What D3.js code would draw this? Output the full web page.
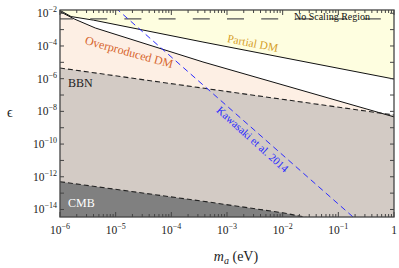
<!DOCTYPE html>
<meta charset="utf-8">
<style>
  body { margin: 0; background: #fff; }
  text { font-family: "Liberation Serif", "DejaVu Serif", serif; }
</style>
<div id="chart"></div>
<script src="https://d3js.org/d3.v7.min.js"></script>
<script>

// x ticks (eV) and y ticks (epsilon)
var massTicks = [1e-6, 1e-5, 1e-4, 1e-3, 1e-2, 1e-1, 1];
var massLabels = ["-6", "-5", "-4", "-3", "-2", "-1", ""];
var epsTicks = [1e-2, 1e-4, 1e-6, 1e-8, 1e-10, 1e-12, 1e-14];
var epsLabels = ["-2", "-4", "-6", "-8", "-10", "-12", "-14"];

// partial DM boundary (upper solid line)
var partialMass = [1e-6, 1.58e-6, 4.0e-6, 3.7e-4, 1];
var partialEps  = [1.5e-2, 6.3e-3, 3.8e-3, 1.74e-4, 9.5e-7];

// overproduced DM boundary (lower solid line)
var overMass = [1e-6, 1.8e-6, 4.3e-6, 3.7e-4, 1];
var overEps  = [1.26e-2, 4.5e-3, 1.26e-3, 1.05e-5, 4.6e-9];

// BBN bound (dashed)
var bbnMass = [1e-6, 1];
var bbnEps  = [4.5e-6, 6.0e-9];

// CMB bound (dashed)
var cmbMass = [1e-6, 3.7e-4, 1e-2, 4e-2];
var cmbEps  = [5e-13, 3.2e-14, 6.3e-15, 2.5e-15];

// Kawasaki et al. 2014
var kawaMass = [1e-5, 0.3];
var kawaEps  = [2.1e-2, 8e-16];

// no scaling region
var noScaleEps = 4.5e-3;

var margin = {top: 10, right: 5, bottom: 51, left: 60},
    width = 399 - margin.left - margin.right,
    height = 268 - margin.top - margin.bottom;

var svg = d3.select("#chart")
  .append("svg")
    .attr("width", 399)
    .attr("height", 268)
  .append("g")
    .attr("transform", "translate(" + margin.left + "," + margin.top + ")");

var x = d3.scaleLog().domain([1e-6, 1]).range([0, width]);
var y = d3.scaleLog().domain([Math.pow(10, -14.46), Math.pow(10, -1.8)]).range([height, 0]);

svg.append("clipPath").attr("id", "clip")
  .append("rect").attr("width", width).attr("height", height);

var plot = svg.append("g").attr("clip-path", "url(#clip)");

function pts(ms, es) { return ms.map(function(m, i) { return [m, es[i]]; }); }

var areaDown = d3.area()
  .x(function(d) { return x(d[0]); })
  .y0(height + 5)
  .y1(function(d) { return y(d[1]); });

var areaUp = d3.area()
  .x(function(d) { return x(d[0]); })
  .y0(-5)
  .y1(function(d) { return y(d[1]); });

var line = d3.line()
  .x(function(d) { return x(d[0]); })
  .y(function(d) { return y(d[1]); });

// regions
plot.append("path").datum(pts(partialMass, partialEps))
  .attr("d", areaUp).attr("fill", "#fefee0");
plot.append("path").datum(pts(overMass, overEps))
  .attr("d", areaDown).attr("fill", "#fdefe4");
plot.append("path").datum(pts(bbnMass, bbnEps))
  .attr("d", areaDown).attr("fill", "#d3cbc5");
plot.append("path").datum(pts(cmbMass, cmbEps))
  .attr("d", areaDown).attr("fill", "#808080");

// boundaries
plot.append("path").datum(pts(partialMass, partialEps))
  .attr("d", line).attr("fill", "none").attr("stroke", "#111").attr("stroke-width", 1);
plot.append("path").datum(pts(overMass, overEps))
  .attr("d", line).attr("fill", "none").attr("stroke", "#111").attr("stroke-width", 1);
plot.append("path").datum(pts(bbnMass, bbnEps))
  .attr("d", line).attr("fill", "none").attr("stroke", "#222")
  .attr("stroke-width", 1.1).attr("stroke-dasharray", "5,3");
plot.append("path").datum(pts(cmbMass, cmbEps))
  .attr("d", line).attr("fill", "none").attr("stroke", "#222")
  .attr("stroke-width", 1.1).attr("stroke-dasharray", "5,3");

plot.append("line")
  .attr("x1", 0).attr("x2", width)
  .attr("y1", y(noScaleEps)).attr("y2", y(noScaleEps))
  .attr("stroke", "#555").attr("stroke-width", 1.3)
  .attr("stroke-dasharray", "17,17.2").attr("stroke-dashoffset", 4);

plot.append("path").datum(pts(kawaMass, kawaEps))
  .attr("d", line).attr("fill", "none").attr("stroke", "#2b2bff")
  .attr("stroke-width", 1).attr("stroke-dasharray", "6,4");

// axes with inward ticks
var minor = [];
massTicks.slice(0, -1).forEach(function(t) {
  for (var k = 2; k < 10; k++) minor.push(t * k);
});
var epsAll = d3.range(-2, -15, -1).map(function(p) { return Math.pow(10, p); });

function ticks(g, vals, len, side) {
  vals.forEach(function(v) {
    if (side === "bottom") g.append("line").attr("x1", x(v)).attr("x2", x(v)).attr("y1", height).attr("y2", height - len);
    if (side === "top") g.append("line").attr("x1", x(v)).attr("x2", x(v)).attr("y1", 0).attr("y2", len);
    if (side === "left") g.append("line").attr("y1", y(v)).attr("y2", y(v)).attr("x1", 0).attr("x2", len);
    if (side === "right") g.append("line").attr("y1", y(v)).attr("y2", y(v)).attr("x1", width).attr("x2", width - len);
  });
}

var tg = svg.append("g").attr("stroke", "#444").attr("stroke-width", 1);
ticks(tg, massTicks, 5, "bottom");
ticks(tg, massTicks, 5, "top");
ticks(tg, minor, 3, "bottom");
ticks(tg, minor, 3, "top");
ticks(tg, epsAll, 4, "left");
ticks(tg, epsAll, 4, "right");

svg.append("rect")
  .attr("width", width).attr("height", height)
  .attr("fill", "none").attr("stroke", "#444").attr("stroke-width", 1.3);

// tick labels
massTicks.forEach(function(t, i) {
  var tx = svg.append("text")
    .attr("x", x(t)).attr("y", height + 17)
    .attr("text-anchor", "middle")
    .attr("font-size", 11.5).attr("fill", "#222");
  if (massLabels[i] === "") { tx.text("1"); return; }
  tx.append("tspan").text("10");
  tx.append("tspan").attr("dy", -5).attr("font-size", 8).text("\u2212" + massLabels[i].slice(1));
});

epsTicks.forEach(function(t, i) {
  var tx = svg.append("text")
    .attr("x", -3).attr("y", y(t) + 4)
    .attr("text-anchor", "end")
    .attr("font-size", 11.5).attr("fill", "#222");
  tx.append("tspan").text("10");
  tx.append("tspan").attr("dy", -5).attr("font-size", 8).text("\u2212" + epsLabels[i].slice(1));
});

// axis titles
svg.append("text")
  .attr("x", -53).attr("y", 107)
  .attr("font-size", 14).attr("fill", "#222").text("\u03f5");

var xl = svg.append("text")
  .attr("x", 176).attr("y", height + 44)
  .attr("text-anchor", "middle")
  .attr("font-size", 14).attr("fill", "#222");
xl.append("tspan").attr("font-style", "italic").text("m");
xl.append("tspan").attr("font-style", "italic").attr("font-size", 10).attr("dy", 3).text("a");
xl.append("tspan").attr("dy", -3).text(" (eV)");

// region labels
svg.append("text")
  .attr("transform", "translate(192,37) rotate(11)")
  .attr("text-anchor", "middle").attr("font-size", 11.5)
  .attr("fill", "#d6a02a").text("Partial DM");

svg.append("text")
  .attr("transform", "translate(68,46) rotate(15.5)")
  .attr("text-anchor", "middle").attr("font-size", 12)
  .attr("fill", "#d7652c").text("Overproduced DM");

svg.append("text")
  .attr("x", 8).attr("y", 77)
  .attr("font-size", 12).attr("fill", "#222").text("BBN");

svg.append("text")
  .attr("x", 8).attr("y", 197)
  .attr("font-size", 12).attr("fill", "#fff").text("CMB");

svg.append("text")
  .attr("transform", "translate(190,132) rotate(42)")
  .attr("text-anchor", "middle").attr("font-size", 11)
  .attr("fill", "#2b2bff").text("Kawasaki et al. 2014");

svg.append("text")
  .attr("x", 272).attr("y", 10)
  .attr("text-anchor", "middle").attr("font-size", 10)
  .attr("fill", "#111").text("No Scaling Region");

</script>
